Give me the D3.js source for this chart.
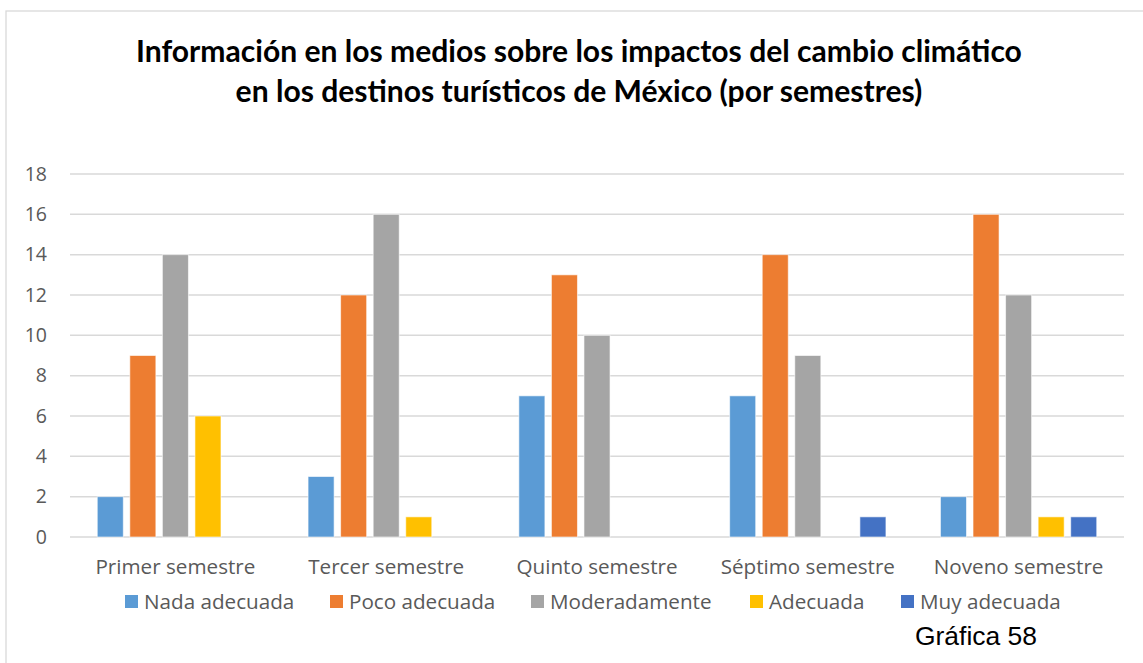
<!DOCTYPE html>
<html><head><meta charset="utf-8">
<script src="https://cdn.jsdelivr.net/npm/d3@7"></script>
<style>body{margin:0;background:#fff}svg{display:block}</style>
</head><body>
<svg id="c" width="1143" height="663"></svg>
<script>
const categories = ["Primer semestre","Tercer semestre","Quinto semestre","Séptimo semestre","Noveno semestre"];
const seriesNames = ["Nada adecuada","Poco adecuada","Moderadamente","Adecuada","Muy adecuada"];
const nadaAdecuada = [2,3,7,7,2];
const pocoAdecuada = [9,12,13,14,16];
const moderadamente = [14,16,10,9,12];
const adecuada = [6,1,0,0,1];
const muyAdecuada = [0,0,0,1,1];
const yTicks = [0,2,4,6,8,10,12,14,16,18];
const titleLines = ["Información en los medios sobre los impactos del cambio climático","en los destinos turísticos de México (por semestres)"];
const caption = "Gráfica 58";

const seriesValues = [nadaAdecuada,pocoAdecuada,moderadamente,adecuada,muyAdecuada];
const colors = ["#5B9BD5","#ED7D31","#A5A5A5","#FFC000","#4472C4"];
const svg = d3.select("#c");
const txt = "#595959";
const plotL = 70, plotR = 1124, plotT = 174, plotB = 537;

svg.append("rect").attr("x",6).attr("y",11).attr("width",1150).attr("height",670)
  .attr("fill","#fff").attr("stroke","#d9d9d9").attr("stroke-width",1.3);

function fit(sel, target){
  const n = sel.node(); const fs = parseFloat(sel.attr("font-size"));
  const w = n.getComputedTextLength(); sel.attr("font-size", fs*target/w);
}

const t1 = svg.append("text").attr("x",579).attr("y",62).attr("text-anchor","middle")
  .attr("font-family","Lato, 'Open Sans', sans-serif").attr("font-weight","bold").attr("font-size",26)
  .attr("fill","#000").text(titleLines[0]);
fit(t1, 886);
const fsTitle = t1.attr("font-size");
svg.append("text").attr("x",579).attr("y",102).attr("text-anchor","middle")
  .attr("font-family","Lato, 'Open Sans', sans-serif").attr("font-weight","bold").attr("font-size",fsTitle)
  .attr("fill","#000").text(titleLines[1]);

const y = d3.scaleLinear().domain([0,18]).range([plotB,plotT]);
const x0 = d3.scaleBand().domain(categories).range([plotL,plotR]).padding(0);
const x1 = d3.scaleBand().domain(d3.range(5)).range([24, x0.bandwidth()-24]).paddingInner(0.2).paddingOuter(0.1);

const grid = svg.append("g");
yTicks.forEach(v=>{
  grid.append("line").attr("x1",plotL).attr("x2",plotR).attr("y1",y(v)).attr("y2",y(v))
    .attr("stroke","#d9d9d9").attr("stroke-width",1.5);
});

const g = svg.append("g");
categories.forEach((c,ci)=>{
  seriesValues.forEach((vals,si)=>{
    const v = vals[ci];
    if(v<=0) return;
    g.append("rect").attr("x",x0(c)+x1(si)).attr("y",y(v)).attr("width",x1.bandwidth())
      .attr("height",y(0)-y(v)).attr("fill",colors[si]).attr("stroke","#fff").attr("stroke-opacity",0.6).attr("stroke-width",1);
  });
});

const xAxis = svg.append("g").attr("transform",`translate(0,${plotB})`)
  .call(d3.axisBottom(x0).tickSize(0).tickPadding(22));
xAxis.select(".domain").remove();
xAxis.selectAll("text").attr("font-family","'Open Sans', sans-serif").attr("font-size",17.5).attr("fill",txt);
const firstLab = xAxis.select(".tick text");
fit(firstLab, 160);
const fsCat = firstLab.attr("font-size");
xAxis.selectAll("text").attr("font-size",fsCat);

const yAxis = svg.append("g").attr("transform",`translate(${plotL},0)`)
  .call(d3.axisLeft(y).tickValues(yTicks).tickSize(0).tickPadding(23));
yAxis.select(".domain").remove();
yAxis.selectAll("text").attr("font-family","'Open Sans', sans-serif").attr("font-size",19.5).attr("fill",txt);

const legendX = [125,330,531,750,901];
const leg = svg.append("g");
seriesNames.forEach((n,i)=>{
  leg.append("rect").attr("x",legendX[i]).attr("y",595).attr("width",13).attr("height",13).attr("fill",colors[i]);
  leg.append("text").attr("x",legendX[i]+19).attr("y",609).attr("font-family","'Open Sans', sans-serif")
    .attr("font-size",fsCat).attr("fill",txt).text(n);
});

const cap = svg.append("text").attr("x",915).attr("y",645).attr("font-family","'Liberation Sans', Arial, sans-serif")
  .attr("font-size",26).attr("fill","#000").text(caption);
fit(cap, 122);
</script>
</body></html>
